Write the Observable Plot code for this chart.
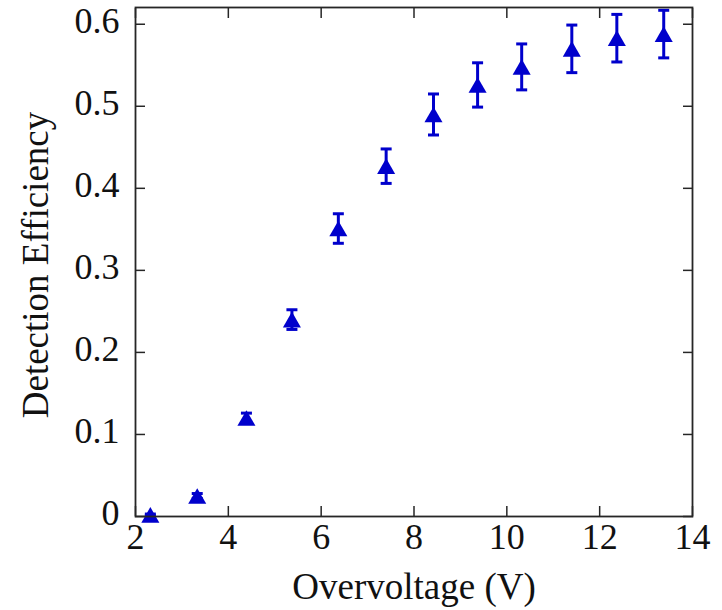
<!DOCTYPE html>
<html><head><meta charset="utf-8">
<script src="https://cdn.jsdelivr.net/npm/d3@7"></script>
<script src="https://cdn.jsdelivr.net/npm/@observablehq/plot@0.6"></script>
<style>body{margin:0;background:#fff}</style>
</head><body><div id="chart"></div>
<script>
const overvoltage = [2.32, 3.33, 4.39, 5.37, 6.37, 7.40, 8.42, 9.37, 10.32, 11.40, 12.37, 13.38];
const efficiency  = [0.002, 0.025, 0.120, 0.240, 0.351, 0.427, 0.490, 0.526, 0.548, 0.570, 0.583, 0.588];
const errorBar    = [0.001, 0.003, 0.006, 0.012, 0.018, 0.021, 0.025, 0.027, 0.028, 0.029, 0.029, 0.029];
const xTicks = [2, 4, 6, 8, 10, 12, 14];
const yTicks = [0, 0.1, 0.2, 0.3, 0.4, 0.5, 0.6];
const yTickLabels = ["0", "0.1", "0.2", "0.3", "0.4", "0.5", "0.6"];
const xTitle = "Overvoltage (V)";
const yTitle = "Detection Efficiency";

const rows = overvoltage.map((x, i) => ({x, y: efficiency[i], lo: efficiency[i] - errorBar[i], hi: efficiency[i] + errorBar[i]}));

const blue = "#0000cc";
const ink = "#262626";
const textInk = "#111";

// triangle centred on its bounding box (like matplotlib "^")
const triangleUp = {draw(ctx, size) {
  const s = Math.sqrt(size * 4 / Math.sqrt(3));
  const h = s * Math.sqrt(3) / 2;
  ctx.moveTo(0, -h / 2); ctx.lineTo(s / 2, h / 2); ctx.lineTo(-s / 2, h / 2); ctx.closePath();
}};
const capSymbol = {draw(ctx) { ctx.moveTo(-5.5, 0); ctx.lineTo(5.5, 0); }};

const chart = Plot.plot({
  width: 722,
  height: 610,
  marginLeft: 135,
  marginRight: 30,
  marginTop: 7,
  marginBottom: 94,
  style: {fontFamily: "'Liberation Serif', 'Times New Roman', serif", fontSize: "36px", color: textInk, background: "#fff"},
  x: {domain: [2, 14]},
  y: {domain: [0, 0.6204]},
  marks: [
    Plot.ruleX(rows, {x: "x", y1: "lo", y2: "hi", stroke: blue, strokeWidth: 3}),
    Plot.dot(rows, {x: "x", y: "lo", symbol: capSymbol, stroke: blue, strokeWidth: 3, r: 5}),
    Plot.dot(rows, {x: "x", y: "hi", symbol: capSymbol, stroke: blue, strokeWidth: 3, r: 5}),
    Plot.dot(rows, {x: "x", y: "y", symbol: triangleUp, fill: blue, r: 6.7}),
    // inward ticks on all four sides
    Plot.axisX(xTicks, {anchor: "bottom", tickSize: 10, dy: -10, fill: "none", label: null, stroke: ink, strokeWidth: 1.5}),
    Plot.axisX(xTicks, {anchor: "top", tickSize: 10, dy: 10, fill: "none", label: null, stroke: ink, strokeWidth: 1.5}),
    Plot.axisY(yTicks, {anchor: "left", tickSize: 10, dx: 10, fill: "none", label: null, stroke: ink, strokeWidth: 1.5}),
    Plot.axisY(yTicks, {anchor: "right", tickSize: 10, dx: -10, fill: "none", label: null, stroke: ink, strokeWidth: 1.5}),
    // tick labels
    Plot.axisX(xTicks, {anchor: "bottom", tickSize: 0, tickPadding: 7, fontSize: 36, label: null, fill: textInk}),
    Plot.axisY(yTicks, {anchor: "left", tickSize: 0, tickPadding: 16, dy: -3, fontSize: 36, tickFormat: (d) => yTickLabels[yTicks.indexOf(d)], label: null, fill: textInk}),
    // axis titles
    Plot.text([xTitle], {frameAnchor: "bottom", textAnchor: "middle", lineAnchor: "top", dy: 56, fontSize: 37, fill: textInk}),
    Plot.text([yTitle], {frameAnchor: "left", textAnchor: "middle", lineAnchor: "top", rotate: -90, dx: -114, dy: 3, fontSize: 37, fill: textInk}),
    Plot.frame({stroke: ink, strokeWidth: 1.8})
  ]
});
document.getElementById("chart").appendChild(chart);
</script>
</body></html>
